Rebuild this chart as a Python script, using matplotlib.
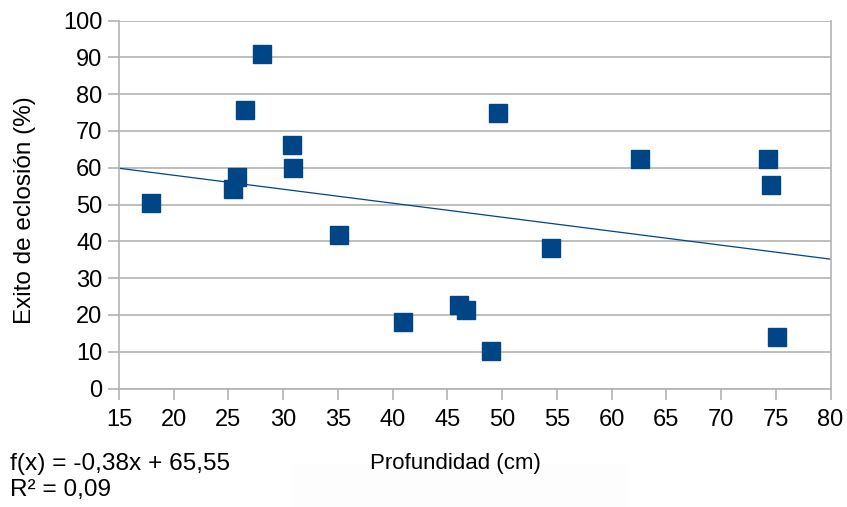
import numpy as np
import matplotlib
matplotlib.use("Agg")
import matplotlib.pyplot as plt
from matplotlib.patches import Rectangle

plt.rcParams['font.family'] = ['Liberation Sans', 'DejaVu Sans']

# datos
profundidad = [17.9, 25.4, 25.8, 26.5, 28.1, 30.8, 30.9, 35.1, 40.9, 46.1,
               46.7, 49.0, 49.6, 54.5, 62.6, 74.3, 74.6, 75.1]
eclosion = [50.5, 54.3, 57.6, 75.8, 90.8, 66.3, 59.8, 41.6, 18.2, 22.6,
            21.2, 10.1, 75.0, 38.3, 62.5, 62.5, 55.2, 14.1]
pendiente = -0.38
intercepto = 65.55
r2 = 0.09
x_ticks = list(range(15, 85, 5))
y_ticks = list(range(0, 110, 10))

azul = '#004586'

def coma(v):
    return ('%.2f' % v).replace('.', ',')

fig = plt.figure(figsize=(8.47, 5.07), dpi=100)
ax = fig.add_axes([119 / 847, 1 - 388.5 / 507, (830.5 - 119) / 847, (388.5 - 20.5) / 507])

# caja casi blanca bajo el grafico
fig.patches.append(Rectangle((293 / 847, 0), (626 - 293) / 847, 42 / 507,
                             transform=fig.transFigure, color='#fdfdfd', zorder=0))

ax.grid(True, axis='y', color='#b3b3b3', linewidth=1.2)
ax.set_axisbelow(True)

xt = np.array([15, 80])
ax.plot(xt, pendiente * xt + intercepto, color=azul, linewidth=0.9, zorder=2)
ax.plot(profundidad, eclosion, 's', color=azul, markersize=13, zorder=3)

ax.set_xlim(15, 80)
ax.set_ylim(0, 100)
ax.set_xticks(x_ticks)
ax.set_yticks(y_ticks)
ax.tick_params(axis='both', labelsize=17, length=8, width=1.2, color='#b3b3b3')
ax.tick_params(axis='x', pad=7)
ax.tick_params(axis='y', pad=4)

for side in ['left', 'right', 'bottom']:
    ax.spines[side].set_color('#b3b3b3')
    ax.spines[side].set_linewidth(1.2)
ax.spines['top'].set_visible(False)

fig.text(25 / 847, 1 - 210 / 507, 'Exito de eclosión (%)', fontsize=17.5,
         rotation=90, ha='center', va='center')
fig.text(455 / 847, 1 - 463 / 507, 'Profundidad (cm)', fontsize=16,
         ha='center', va='center')
fig.text(10 / 847, 1 - 464 / 507,
         'f(x) = ' + coma(pendiente) + 'x + ' + coma(intercepto),
         fontsize=17.6, ha='left', va='center')
fig.text(10 / 847, 1 - 490 / 507, 'R² = ' + coma(r2),
         fontsize=17.6, ha='left', va='center')

fig.savefig('out.png', dpi=100)
